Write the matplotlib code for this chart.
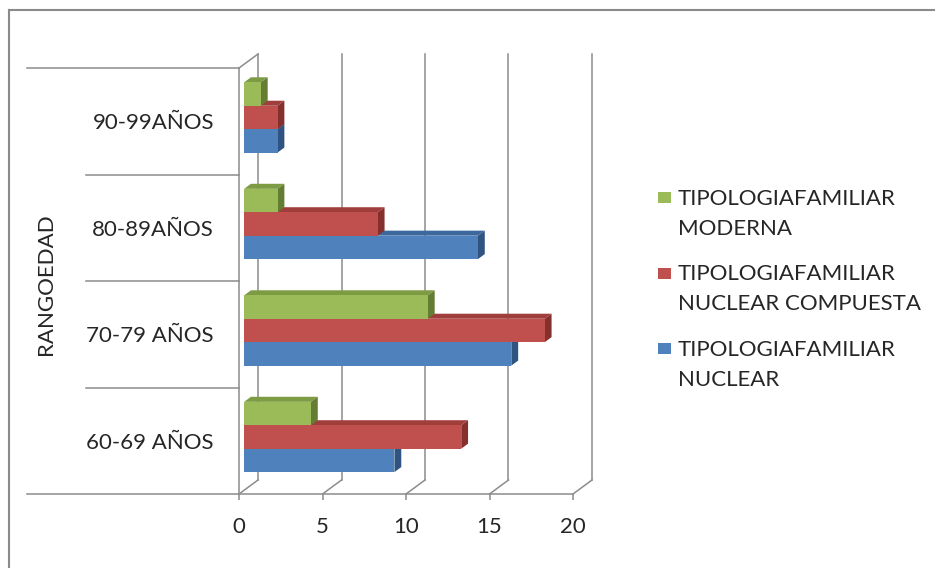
import matplotlib
matplotlib.use("Agg")
import matplotlib.pyplot as plt
from matplotlib.lines import Line2D
from matplotlib.patches import Polygon, Rectangle
from matplotlib.transforms import blended_transform_factory

age_groups = ["60-69 AÑOS", "70-79 AÑOS", "80-89AÑOS", "90-99AÑOS"]
nuclear = [9, 16, 14, 2]
nuclear_compuesta = [13, 18, 8, 2]
moderna = [4, 11, 2, 1]
series_names = [
    "TIPOLOGIAFAMILIAR\nNUCLEAR",
    "TIPOLOGIAFAMILIAR\nNUCLEAR COMPUESTA",
    "TIPOLOGIAFAMILIAR\nMODERNA",
]
x_ticks = [0, 5, 10, 15, 20]
axis_title = "RANGOEDAD"

# front face, top face, side face
PALETTE = [
    ("#4F81BD", "#3D689E", "#2F5482"),
    ("#C0504D", "#A03E3B", "#86302E"),
    ("#9BBB59", "#7D9B42", "#637D32"),
]
GRID = "#8C8C8C"
TEXT = "#262626"
FONT = "Lato"

W, H = 935, 568
LEFT, RIGHT, TOP, BOTTOM = 239, 573, 68, 494   # front plane in pixels
DEPTH_PX = (19, 14)                             # wall depth, right and up
BAR_DEPTH = (0.27, 0.63)                        # bar slab inside the depth
BAR_H = 0.22

plt.rcParams["font.family"] = [FONT, "DejaVu Sans"]
fig = plt.figure(figsize=(W / 100, H / 100), dpi=100)
ax = fig.add_axes([LEFT / W, 1 - BOTTOM / H, (RIGHT - LEFT) / W, (BOTTOM - TOP) / H])
ax.set_xlim(0, x_ticks[-1])
ax.set_ylim(0, len(age_groups))

# depth offset in data units
dx = DEPTH_PX[0] * x_ticks[-1] / (RIGHT - LEFT)
dy = DEPTH_PX[1] * len(age_groups) / (BOTTOM - TOP)
n_cat = len(age_groups)

line_kw = dict(color=GRID, lw=1.1, clip_on=False, zorder=1)
# back wall gridlines and floor diagonals
for t in x_ticks:
    ax.plot([t + dx, t + dx], [dy, n_cat + dy], **line_kw)
    ax.plot([t, t + dx], [0, dy], **line_kw)
# left wall
ax.plot([0, 0], [0, n_cat], **line_kw)
ax.plot([0, dx], [n_cat, n_cat + dy], **line_kw)

# category separators reaching out to the labels
sep = blended_transform_factory(fig.transFigure, ax.transData)
for k in range(n_cat + 1):
    x_start = 27 if k in (0, n_cat) else 86
    ax.plot([x_start / W, LEFT / W], [k, k], transform=sep, **line_kw)


def draw_bar(y0, value, colors):
    front, top, side = colors
    x0 = BAR_DEPTH[0] * dx
    y0 = y0 + BAR_DEPTH[0] * dy
    ddx = (BAR_DEPTH[1] - BAR_DEPTH[0]) * dx
    ddy = (BAR_DEPTH[1] - BAR_DEPTH[0]) * dy
    x1 = x0 + value
    y1 = y0 + BAR_H
    ax.add_patch(Polygon([(x0, y1), (x1, y1), (x1 + ddx, y1 + ddy), (x0 + ddx, y1 + ddy)],
                         closed=True, fc=top, ec="none", clip_on=False, zorder=3))
    ax.add_patch(Polygon([(x1, y0), (x1 + ddx, y0 + ddy), (x1 + ddx, y1 + ddy), (x1, y1)],
                         closed=True, fc=side, ec="none", clip_on=False, zorder=3))
    ax.add_patch(Rectangle((x0, y0), value, BAR_H, fc=front, ec="none",
                           clip_on=False, zorder=3))


series = [nuclear, nuclear_compuesta, moderna]
for i in range(n_cat):
    base = i + 0.5 - 1.5 * BAR_H
    for s, values in enumerate(series):
        draw_bar(base + s * BAR_H, values[i], PALETTE[s])

for side in ("top", "right", "left"):
    ax.spines[side].set_visible(False)
ax.spines["bottom"].set_color(GRID)
ax.spines["bottom"].set_linewidth(1.1)
ax.set_facecolor("none")

ax.set_xticks(x_ticks)
ax.set_xticklabels([str(t) for t in x_ticks], fontsize=16, color=TEXT)
ax.tick_params(axis="x", length=4.5, width=1.1, color=GRID, pad=12)
ax.set_yticks([i + 0.5 for i in range(n_cat)])
ax.set_yticklabels(age_groups, fontsize=16, color=TEXT)
ax.tick_params(axis="y", length=0, pad=18)

fig.text(46 / W, 1 - 284 / H, axis_title, rotation=90, ha="center", va="center",
         fontsize=16, color=TEXT)

# legend, last series first, square beside the first line
for k, s in enumerate(reversed(range(len(series)))):
    y_base = 205 + 75.5 * k
    fig.add_artist(Rectangle((658 / W, 1 - (y_base - 2) / H), 13 / W, 11 / H,
                             transform=fig.transFigure, fc=PALETTE[s][0], ec="none"))
    for j, line in enumerate(series_names[s].split("\n")):
        fig.text(678 / W, 1 - (y_base + 30 * j) / H, line, ha="left", va="baseline",
                 fontsize=16, color=TEXT)

# chart frame, top and left edges
fig.add_artist(Line2D([9 / W, 1], [1 - 10 / H, 1 - 10 / H], color="#8A8A8A", lw=1.5))
fig.add_artist(Line2D([9 / W, 9 / W], [0, 1 - 10 / H], color="#8A8A8A", lw=1.5))

fig.savefig("out.png", dpi=100, facecolor="white")
